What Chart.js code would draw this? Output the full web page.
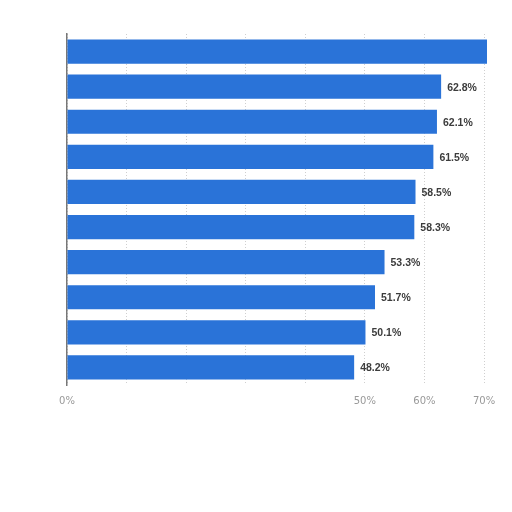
<!DOCTYPE html>
<html>
<head>
<meta charset="utf-8">
<script src="https://cdn.jsdelivr.net/npm/chart.js@4/dist/chart.umd.min.js"></script>
<style>
  html, body { margin: 0; padding: 0; background: #fff; }
  #wrap { width: 512px; height: 512px; position: relative; }
</style>
</head>
<body>
<div id="wrap"><canvas id="chart"></canvas></div>
<script>
// categories are hidden (blurred) in the reference
const categorias = ['1', '2', '3', '4', '5', '6', '7', '8', '9', '10'];
// first bar runs off the chart, its label is not shown
const valores = [73, 62.8, 62.1, 61.5, 58.5, 58.3, 53.3, 51.7, 50.1, 48.2];
const ticksEixo = [0, 10, 20, 30, 40, 50, 60, 70];
const ticksVisiveis = [0, 50, 60, 70];

// draws "62.8%" next to every bar that ends inside the plot
const rotulos = {
  id: 'rotulos',
  afterDatasetsDraw(chart) {
    const ctx = chart.ctx;
    const area = chart.chartArea;
    const meta = chart.getDatasetMeta(0);
    ctx.save();
    ctx.font = 'bold 10.5px "Liberation Sans", Arial, sans-serif';
    ctx.fillStyle = '#3c3c3c';
    ctx.textBaseline = 'middle';
    meta.data.forEach((bar, i) => {
      if (bar.x + 30 > area.right) return;
      ctx.fillText(valores[i].toFixed(1) + '%', bar.x + 6, bar.y + 1);
    });
    ctx.restore();
  }
};

new Chart(document.getElementById('chart'), {
  type: 'bar',
  data: {
    labels: categorias,
    datasets: [{
      data: valores,
      backgroundColor: '#2a73d8',
      borderWidth: 0,
      barPercentage: 0.69,
      categoryPercentage: 1
    }]
  },
  options: {
    indexAxis: 'y',
    responsive: true,
    maintainAspectRatio: false,
    animation: false,
    layout: { padding: { left: 67, right: 25, top: 34, bottom: 95 } },
    plugins: { legend: { display: false }, tooltip: { enabled: false } },
    scales: {
      x: {
        min: 0,
        max: 70.5,
        afterBuildTicks: axis => { axis.ticks = ticksEixo.map(v => ({ value: v })); },
        ticks: {
          color: '#999',
          font: { size: 10, family: '"DejaVu Sans", sans-serif' },
          padding: 10,
          autoSkip: false,
          maxRotation: 0,
          callback: v => ticksVisiveis.includes(v) ? v + '%' : ''
        },
        grid: { color: '#cfcfcf', drawTicks: false },
        border: { display: false, dash: [1, 2] }
      },
      y: {
        ticks: { display: false },
        grid: { display: false, drawTicks: false },
        border: { display: true, color: '#777', width: 1.5 }
      }
    }
  },
  plugins: [rotulos]
});
</script>
</body>
</html>
